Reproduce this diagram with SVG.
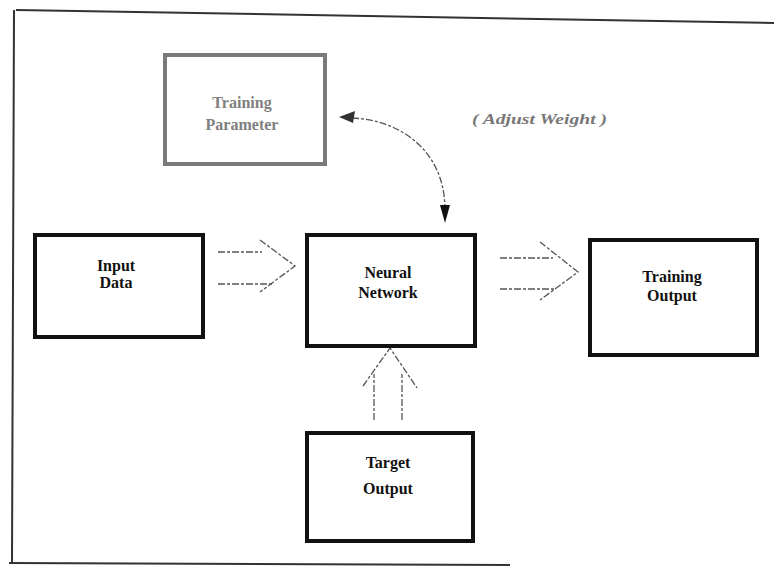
<svg xmlns="http://www.w3.org/2000/svg" width="774" height="572" viewBox="0 0 774 572">
<style>
.box{fill:#fff;stroke:#111;stroke-width:4}
.gbox{fill:#fff;stroke:#7a7a7a;stroke-width:4}
.lbl{font-family:"Liberation Serif","Times New Roman",serif;font-weight:bold;font-size:16px;fill:#111;text-anchor:middle}
.glbl{fill:#808080}
.conn{fill:none;stroke:#555;stroke-width:1.3;stroke-dasharray:7 2 3 2}
.frame{fill:none;stroke:#333;stroke-width:2}
</style>
<rect width="774" height="572" fill="#fff"/>
<g id="frame">
<path class="frame" d="M16 10 L774 23 M14 10 L12 563 M9 563 L510 565"/>
</g>
<g id="connectors">
<g id="in-to-nn">
<path class="conn" d="M218 252 L262 252 M218 284 L272 284"/>
<path class="conn" d="M260 240 L295 266 L260 292"/>
</g>
<g id="nn-to-out">
<path class="conn" d="M500 258 L553 258 M500 289 L556 289"/>
<path class="conn" d="M540 242 L578 272 L540 300"/>
</g>
<g id="target-to-nn">
<path class="conn" d="M374 420 L374 374 M402 420 L402 374"/>
<path class="conn" d="M363 386 L390 348 L417 388"/>
</g>
<g id="adjust">
<path class="conn" d="M352 118 C400 120 444 150 445 208"/>
<path d="M339 117 L355 111 L353 123 Z" fill="#333"/>
<path d="M445 223 L440 205 L450 205 Z" fill="#111"/>
</g>
</g>
<g id="training-parameter">
<rect class="gbox" x="165" y="55" width="160" height="109"/>
<text class="lbl glbl" x="242" y="108">Training</text>
<text class="lbl glbl" x="242" y="130">Parameter</text>
</g>
<g id="adjust-label">
<text x="472" y="124" font-family="Liberation Serif,serif" font-style="italic" font-weight="bold" font-size="14" fill="#777" textLength="135" lengthAdjust="spacingAndGlyphs">( Adjust Weight )</text>
</g>
<g id="input-data">
<rect class="box" x="35" y="235" width="168" height="102"/>
<text class="lbl" x="116" y="271">Input</text>
<text class="lbl" x="116" y="288">Data</text>
</g>
<g id="neural-network">
<rect class="box" x="307" y="235" width="168" height="111"/>
<text class="lbl" x="388" y="278">Neural</text>
<text class="lbl" x="388" y="298">Network</text>
</g>
<g id="training-output">
<rect class="box" x="590" y="240" width="167" height="115"/>
<text class="lbl" x="672" y="282">Training</text>
<text class="lbl" x="672" y="301">Output</text>
</g>
<g id="target-output">
<rect class="box" x="307" y="433" width="166" height="108"/>
<text class="lbl" x="388" y="468">Target</text>
<text class="lbl" x="388" y="494">Output</text>
</g>
</svg>
